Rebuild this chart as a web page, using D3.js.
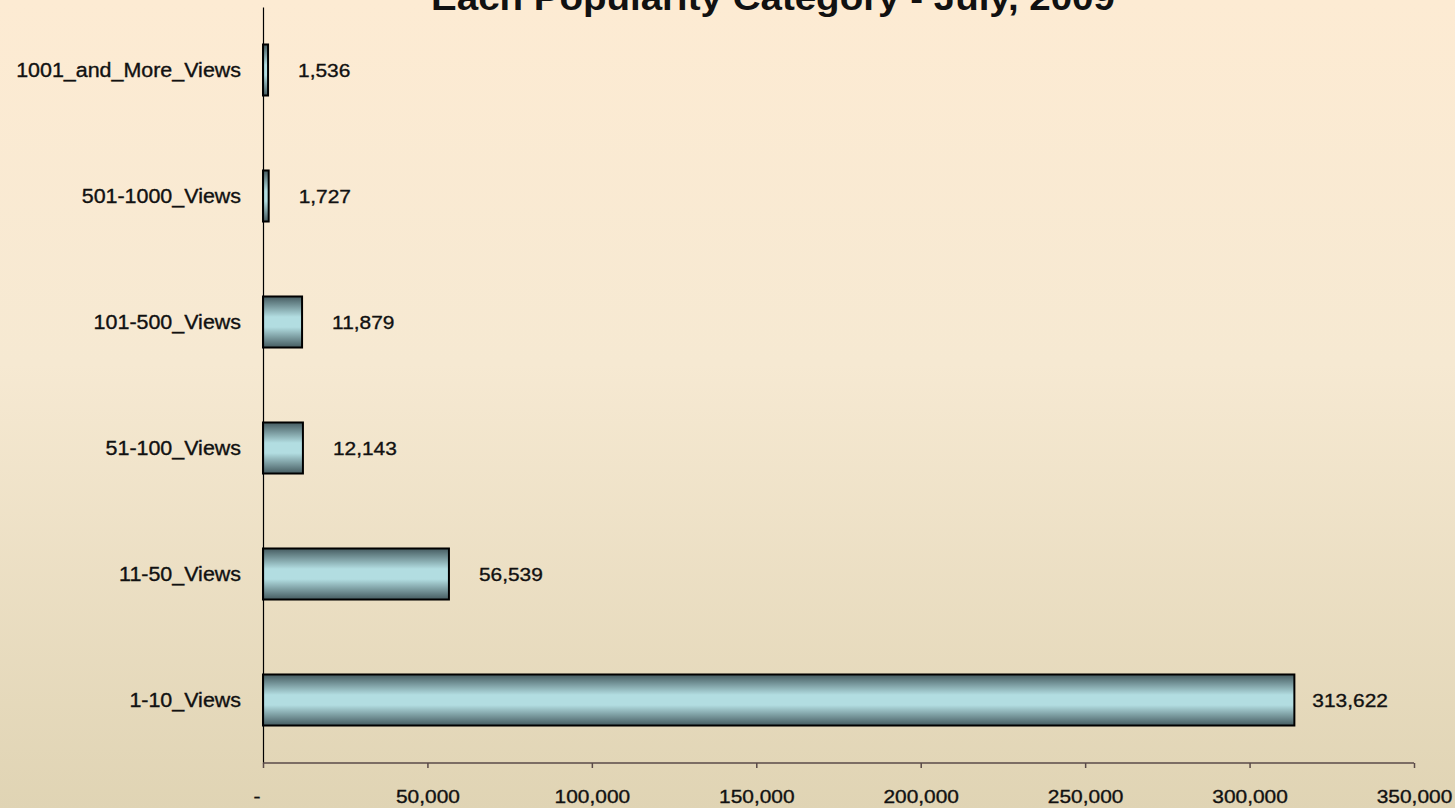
<!DOCTYPE html>
<html>
<head>
<meta charset="utf-8">
<script src="https://cdn.jsdelivr.net/npm/d3@7"></script>
<style>
  html, body { margin: 0; padding: 0; overflow: hidden; }
  text { font-family: Arial, "Liberation Sans", sans-serif; fill: #111; }
  .heavy { stroke: #111; stroke-width: 0.35px; }
</style>
</head>
<body>
<div class="chart-container"></div>
<script>
// Data
const categories = ['1001_and_More_Views', '501-1000_Views', '101-500_Views', '51-100_Views', '11-50_Views', '1-10_Views'];
const articleCounts = [1536, 1727, 11879, 12143, 56539, 313622];
const xTicks = [0, 50000, 100000, 150000, 200000, 250000, 300000, 350000];
const titleText = 'Each Popularity Category - July, 2009';

// Dimensions
const W = 1455, H = 808;
const margin = { top: 7, right: 41, bottom: 45, left: 263 };
const width = W - margin.left - margin.right,
    height = H - margin.top - margin.bottom;

const svg = d3.select('.chart-container')
    .append('svg')
        .attr('width', W)
        .attr('height', H);

// Gradients
const defs = svg.append('defs');
const bg = defs.append('linearGradient').attr('id', 'bg')
    .attr('x1', 0).attr('y1', 0).attr('x2', 0).attr('y2', 1);
bg.append('stop').attr('offset', '0%').attr('stop-color', '#fdebd3');
bg.append('stop').attr('offset', '45%').attr('stop-color', '#f6e9d2');
bg.append('stop').attr('offset', '100%').attr('stop-color', '#e0d4b4');

const barGrad = defs.append('linearGradient').attr('id', 'bar')
    .attr('x1', 0).attr('y1', 0).attr('x2', 0).attr('y2', 1);
barGrad.append('stop').attr('offset', '0%').attr('stop-color', '#455b60');
barGrad.append('stop').attr('offset', '40%').attr('stop-color', '#b2dde1');
barGrad.append('stop').attr('offset', '60%').attr('stop-color', '#b2dde1');
barGrad.append('stop').attr('offset', '100%').attr('stop-color', '#455b60');

svg.append('rect')
    .attr('width', W).attr('height', H)
    .attr('fill', 'url(#bg)');

// Title (mostly cut off above the page, as in the source image)
svg.append('text')
    .attr('transform', `translate(${773}, ${10}) scale(1.1,1)`)
    .attr('text-anchor', 'middle')
    .attr('font-size', 35)
    .attr('font-weight', 'bold')
    .text(titleText);

const g = svg.append('g')
    .attr('transform', `translate(${margin.left},${margin.top})`);

// Scales
const x = d3.scaleLinear().domain([0, 350000]).range([0, 1151]);
const y = d3.scaleBand()
    .domain(categories)
    .range([0, height])
    .paddingInner(0.595)
    .paddingOuter(0.2975);

const fmt = d3.format(',');
const sx = 1.1; // the reference's text is slightly wide

// Bars
g.selectAll('rect.bar')
    .data(categories)
    .join('rect')
        .attr('class', 'bar')
        .attr('x', x(0))
        .attr('y', d => y(d))
        .attr('width', (d, i) => x(articleCounts[i]) - x(0))
        .attr('height', y.bandwidth())
        .attr('fill', 'url(#bar)')
        .attr('stroke', '#000')
        .attr('stroke-width', 2);

// Value labels
g.selectAll('text.value')
    .data(categories)
    .join('text')
        .attr('class', 'value heavy')
        .attr('transform', (d, i) => `translate(${x(articleCounts[i]) + (i === 5 ? 18 : 30)}, ${y(d) + y.bandwidth() / 2 + 7}) scale(${sx},1)`)
        .attr('font-size', 19)
        .text((d, i) => fmt(articleCounts[i]));

// Y axis
const yAxis = g.append('g')
    .call(d3.axisLeft(y).tickSize(0).tickPadding(22));
yAxis.select('.domain').attr('stroke', '#000').attr('stroke-width', 1.2);
yAxis.selectAll('text')
    .attr('class', 'heavy')
    .attr('font-size', 19.5)
    .attr('fill', '#111')
    .attr('dy', null)
    .attr('transform', `translate(0, 7) scale(${sx},1)`)
    .attr('x', -22 / sx);

// X axis
const xAxis = g.append('g')
    .attr('transform', `translate(0,${height})`)
    .call(d3.axisBottom(x)
        .tickValues(xTicks)
        .tickSize(5)
        .tickPadding(20)
        .tickFormat(d => d === 0 ? '-' : fmt(d)));
xAxis.select('.domain').attr('stroke', '#5a4a48').attr('stroke-width', 1.5)
    .attr('d', `M0,0H${x(350000)}`);
xAxis.selectAll('.tick line').attr('stroke', '#5a4a48').attr('stroke-width', 1.5);
xAxis.selectAll('.tick text')
    .attr('class', 'heavy')
    .attr('font-size', 19)
    .attr('fill', '#111')
    .attr('dy', null)
    .attr('y', 40)
    .attr('transform', `scale(${sx},1)`)
    .attr('text-anchor', 'middle');
xAxis.selectAll('.tick').filter(d => d === 0).select('text').attr('x', -6);
</script>
</body>
</html>
